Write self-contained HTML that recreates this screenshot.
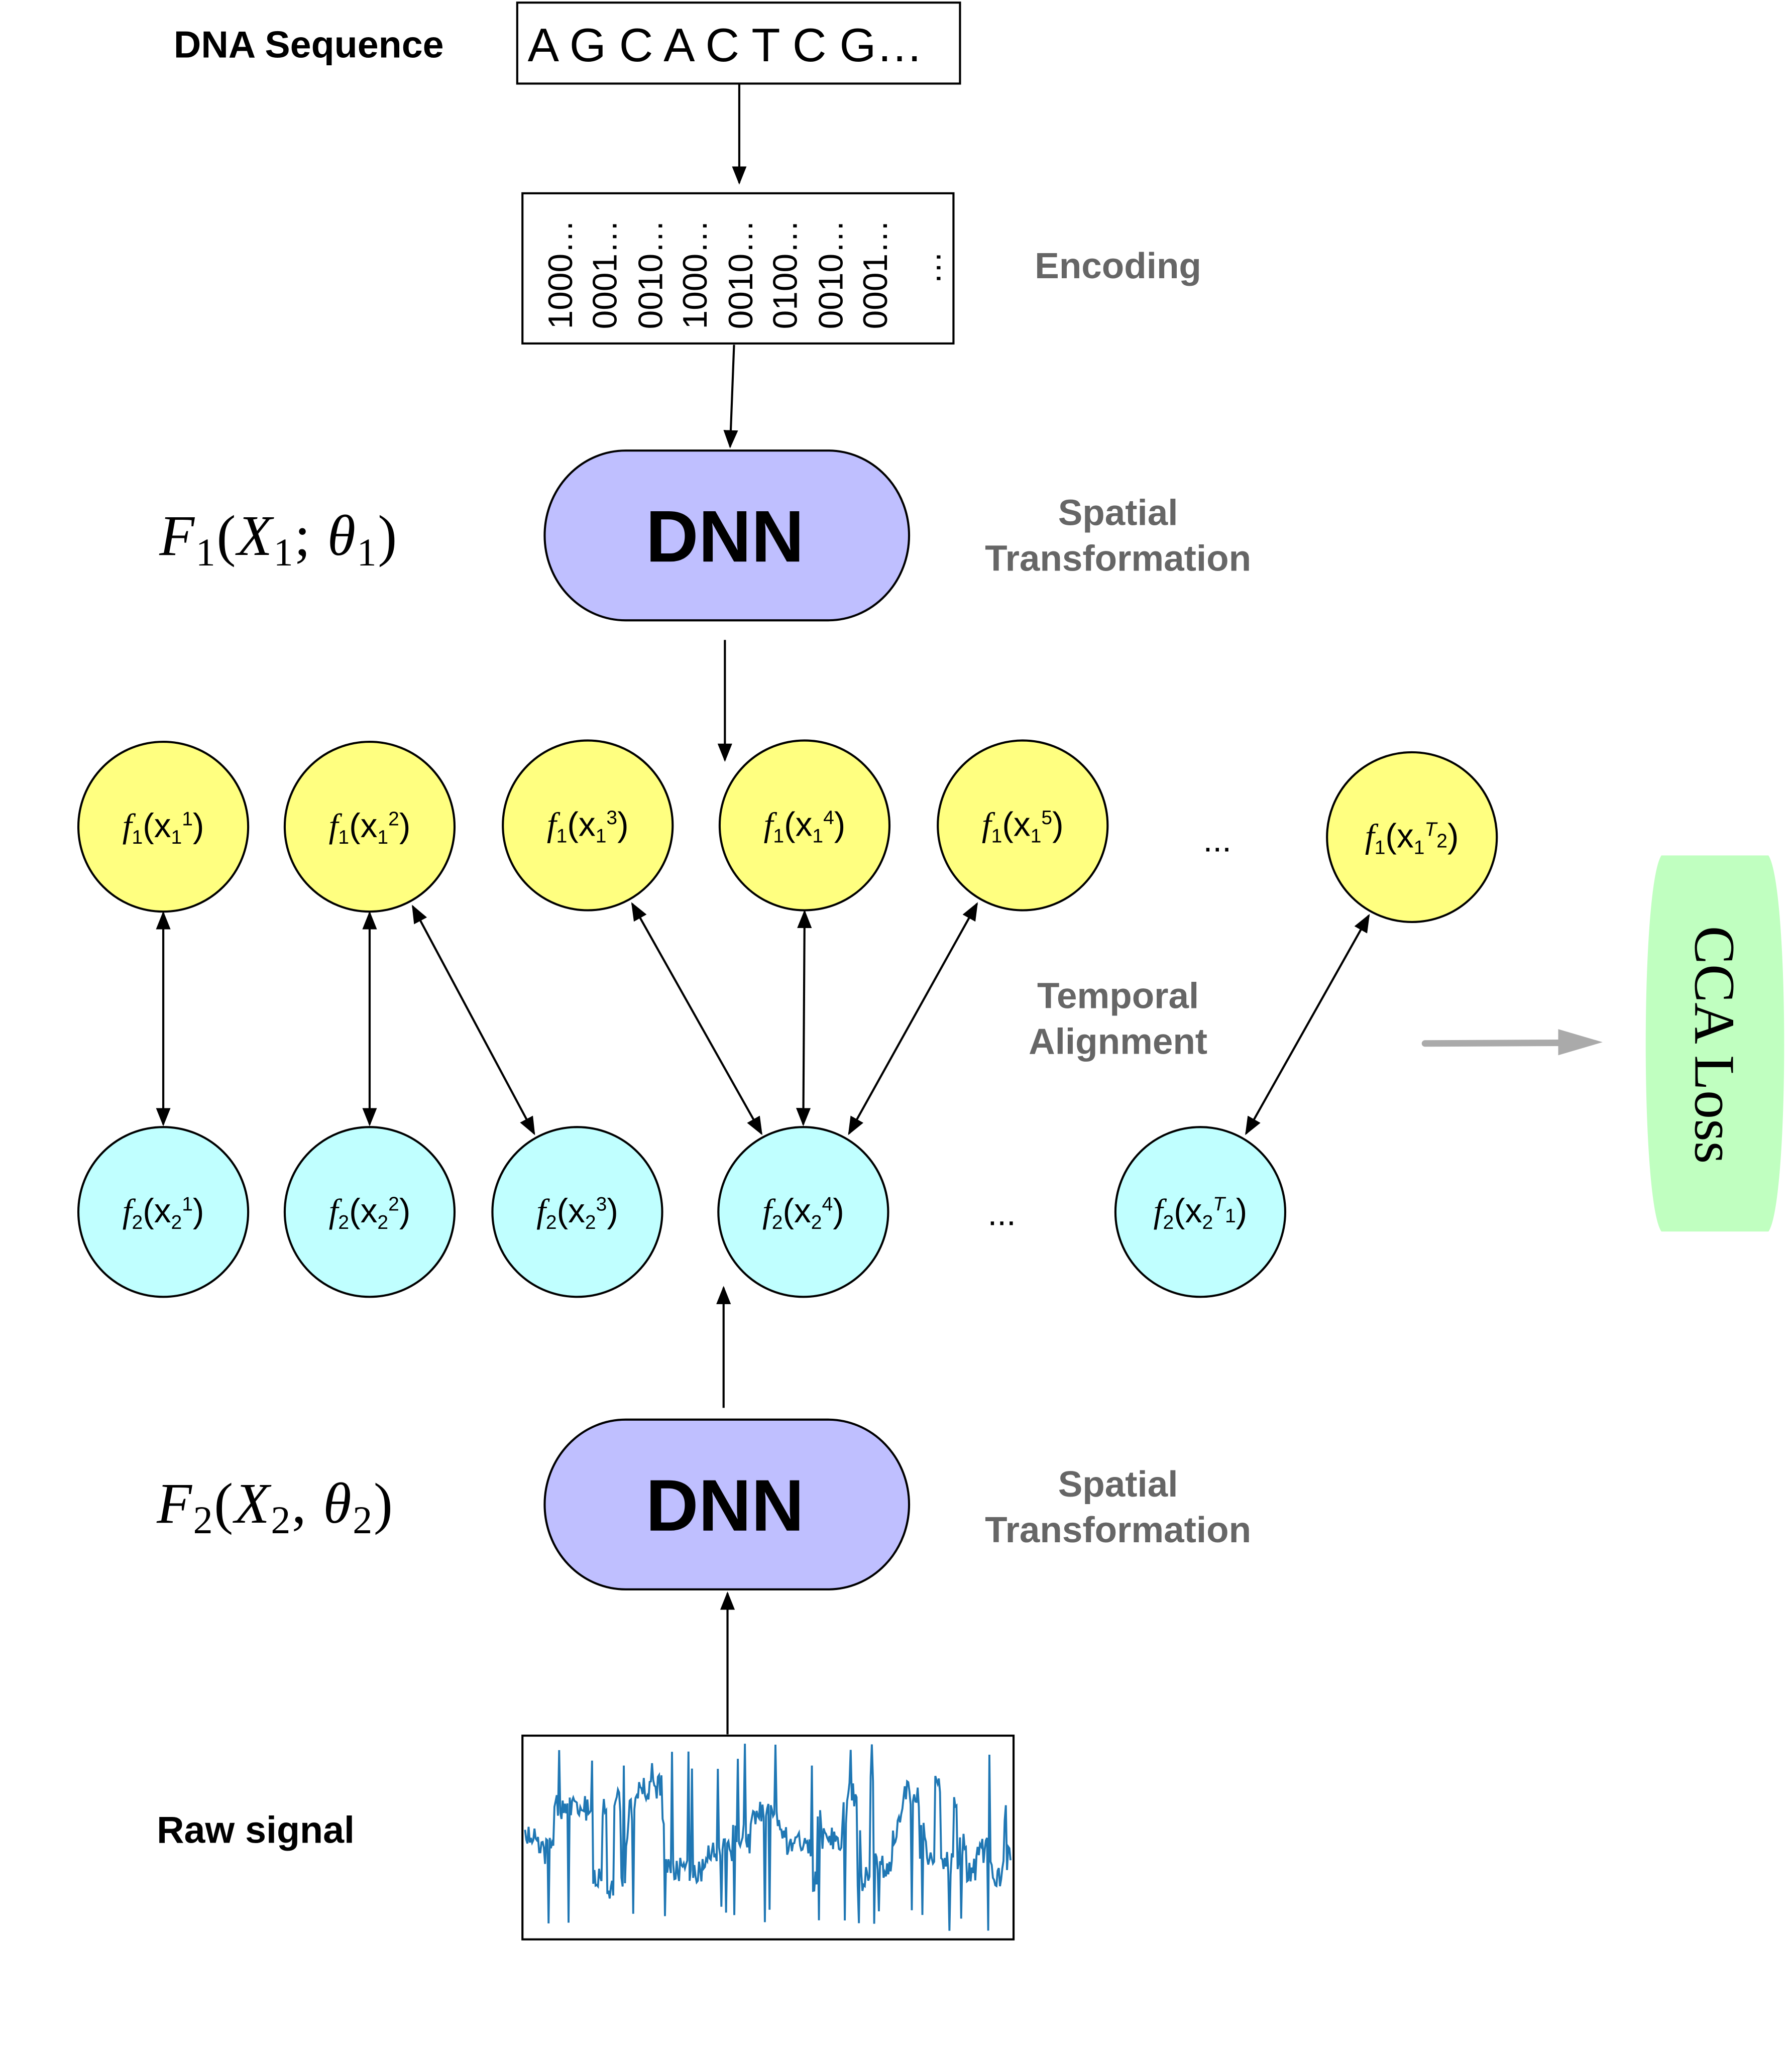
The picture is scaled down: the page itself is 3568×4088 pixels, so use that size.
<!DOCTYPE html>
<html><head><meta charset="utf-8"><style>
html,body{margin:0;padding:0;background:#fff}
svg{display:block}
.b{font-family:"Liberation Sans",sans-serif;font-weight:bold}
.g{fill:#666;font-size:28px;text-anchor:middle}
.n{font-family:"Liberation Sans",sans-serif;font-size:26px;text-anchor:middle}
.m{font-family:"Liberation Serif",serif;font-size:44px}
</style></head><body>
<svg width="3568" height="4088" viewBox="0 0 1372 1572" preserveAspectRatio="none" xmlns="http://www.w3.org/2000/svg">
<defs>
<marker id="a" viewBox="0 0 10 10" refX="9" refY="5" markerWidth="14" markerHeight="14" orient="auto-start-reverse" markerUnits="userSpaceOnUse"><path d="M0,1 L10,5 L0,9 z" fill="#000"/></marker>
</defs>
<g stroke="#000" stroke-width="1.6" fill="none">
<line x1="566" y1="64" x2="566" y2="140" marker-end="url(#a)"/>
<line x1="562" y1="264" x2="559" y2="342" marker-end="url(#a)"/>
<line x1="555" y1="490" x2="555" y2="582" marker-end="url(#a)"/>
<line x1="125" y1="699" x2="125" y2="861" marker-start="url(#a)" marker-end="url(#a)"/>
<line x1="283" y1="699" x2="283" y2="861" marker-start="url(#a)" marker-end="url(#a)"/>
<line x1="316" y1="694" x2="409" y2="868" marker-start="url(#a)" marker-end="url(#a)"/>
<line x1="484" y1="692" x2="583" y2="868" marker-start="url(#a)" marker-end="url(#a)"/>
<line x1="616" y1="698" x2="615" y2="861" marker-start="url(#a)" marker-end="url(#a)"/>
<line x1="748" y1="692" x2="650" y2="868" marker-start="url(#a)" marker-end="url(#a)"/>
<line x1="1048" y1="701" x2="954" y2="868" marker-start="url(#a)" marker-end="url(#a)"/>
<line x1="554" y1="1078" x2="554" y2="986" marker-end="url(#a)"/>
<line x1="557" y1="1328" x2="557" y2="1220" marker-end="url(#a)"/>
</g>
<line x1="1091" y1="799" x2="1196" y2="798.5" stroke="#aaa" stroke-width="5" stroke-linecap="round"/>
<path d="M1193,788 L1227,798 L1193,808 z" fill="#aaa"/>

<text x="133" y="44" class="b" font-size="29">DNA Sequence</text>
<rect x="396" y="2" width="339" height="62" fill="#fff" stroke="#000" stroke-width="1.6"/>
<text x="404" y="47" font-family="Liberation Sans,sans-serif" font-size="36">A G C A C T C G…</text>

<rect x="400" y="148" width="330" height="115" fill="#fff" stroke="#000" stroke-width="1.6"/>
<g font-family="Liberation Sans,sans-serif" font-size="26">
<text transform="translate(438,252) rotate(-90)">1000…</text>
<text transform="translate(472,252) rotate(-90)">0001…</text>
<text transform="translate(507,252) rotate(-90)">0010…</text>
<text transform="translate(541,252) rotate(-90)">1000…</text>
<text transform="translate(576,252) rotate(-90)">0010…</text>
<text transform="translate(610,252) rotate(-90)">0100…</text>
<text transform="translate(645,252) rotate(-90)">0010…</text>
<text transform="translate(679,252) rotate(-90)">0001…</text>
<text transform="translate(720,218) rotate(-90)">…</text>
</g>
<text x="856" y="213" class="b g">Encoding</text>

<rect x="417" y="345" width="279" height="130" rx="62" ry="65" fill="#bfbfff" stroke="#000" stroke-width="1.6"/>
<text x="555" y="430" class="b" font-size="56" text-anchor="middle">DNN</text>
<text x="122" y="425" class="m" letter-spacing="1"><tspan font-style="italic">F</tspan><tspan font-size="30" dy="8">1</tspan><tspan dy="-8">(</tspan><tspan font-style="italic">X</tspan><tspan font-size="30" dy="8">1</tspan><tspan dy="-8">;  </tspan><tspan font-style="italic">θ</tspan><tspan font-size="30" dy="8">1</tspan><tspan dy="-8">)</tspan></text>
<text x="856" y="402" class="b g">Spatial</text>
<text x="856" y="437" class="b g">Transformation</text>

<g stroke="#000" stroke-width="1.6" fill="#ffff80">
<circle cx="125" cy="633" r="65"/><circle cx="283" cy="633" r="65"/><circle cx="450" cy="632" r="65"/>
<circle cx="616" cy="632" r="65"/><circle cx="783" cy="632" r="65"/><circle cx="1081" cy="641" r="65"/>
</g>
<g stroke="#000" stroke-width="1.6" fill="#c0ffff">
<circle cx="125" cy="928" r="65"/><circle cx="283" cy="928" r="65"/><circle cx="442" cy="928" r="65"/>
<circle cx="615" cy="928" r="65"/><circle cx="919" cy="928" r="65"/>
</g>
<g class="n">
<text x="125" y="641"><tspan font-style="italic" font-family="Liberation Serif,serif">f</tspan><tspan font-size="15" dy="5">1</tspan><tspan dy="-5">(x</tspan><tspan font-size="15" dy="5">1</tspan><tspan font-size="15" dy="-14">1</tspan><tspan dy="9">)</tspan></text>
<text x="283" y="641"><tspan font-style="italic" font-family="Liberation Serif,serif">f</tspan><tspan font-size="15" dy="5">1</tspan><tspan dy="-5">(x</tspan><tspan font-size="15" dy="5">1</tspan><tspan font-size="15" dy="-14">2</tspan><tspan dy="9">)</tspan></text>
<text x="450" y="640"><tspan font-style="italic" font-family="Liberation Serif,serif">f</tspan><tspan font-size="15" dy="5">1</tspan><tspan dy="-5">(x</tspan><tspan font-size="15" dy="5">1</tspan><tspan font-size="15" dy="-14">3</tspan><tspan dy="9">)</tspan></text>
<text x="616" y="640"><tspan font-style="italic" font-family="Liberation Serif,serif">f</tspan><tspan font-size="15" dy="5">1</tspan><tspan dy="-5">(x</tspan><tspan font-size="15" dy="5">1</tspan><tspan font-size="15" dy="-14">4</tspan><tspan dy="9">)</tspan></text>
<text x="783" y="640"><tspan font-style="italic" font-family="Liberation Serif,serif">f</tspan><tspan font-size="15" dy="5">1</tspan><tspan dy="-5">(x</tspan><tspan font-size="15" dy="5">1</tspan><tspan font-size="15" dy="-14">5</tspan><tspan dy="9">)</tspan></text>
<text x="1081" y="649"><tspan font-style="italic" font-family="Liberation Serif,serif">f</tspan><tspan font-size="15" dy="5">1</tspan><tspan dy="-5">(x</tspan><tspan font-size="15" dy="5">1</tspan><tspan font-size="15" font-style="italic" dy="-14">T</tspan><tspan font-size="15" dy="9">2</tspan><tspan>)</tspan></text>
<text x="125" y="936"><tspan font-style="italic" font-family="Liberation Serif,serif">f</tspan><tspan font-size="15" dy="5">2</tspan><tspan dy="-5">(x</tspan><tspan font-size="15" dy="5">2</tspan><tspan font-size="15" dy="-14">1</tspan><tspan dy="9">)</tspan></text>
<text x="283" y="936"><tspan font-style="italic" font-family="Liberation Serif,serif">f</tspan><tspan font-size="15" dy="5">2</tspan><tspan dy="-5">(x</tspan><tspan font-size="15" dy="5">2</tspan><tspan font-size="15" dy="-14">2</tspan><tspan dy="9">)</tspan></text>
<text x="442" y="936"><tspan font-style="italic" font-family="Liberation Serif,serif">f</tspan><tspan font-size="15" dy="5">2</tspan><tspan dy="-5">(x</tspan><tspan font-size="15" dy="5">2</tspan><tspan font-size="15" dy="-14">3</tspan><tspan dy="9">)</tspan></text>
<text x="615" y="936"><tspan font-style="italic" font-family="Liberation Serif,serif">f</tspan><tspan font-size="15" dy="5">2</tspan><tspan dy="-5">(x</tspan><tspan font-size="15" dy="5">2</tspan><tspan font-size="15" dy="-14">4</tspan><tspan dy="9">)</tspan></text>
<text x="919" y="936"><tspan font-style="italic" font-family="Liberation Serif,serif">f</tspan><tspan font-size="15" dy="5">2</tspan><tspan dy="-5">(x</tspan><tspan font-size="15" dy="5">2</tspan><tspan font-size="15" font-style="italic" dy="-14">T</tspan><tspan font-size="15" dy="9">1</tspan><tspan>)</tspan></text>
<text x="932" y="652">...</text>
<text x="767" y="938">...</text>
</g>
<text x="856" y="772" class="b g">Temporal</text>
<text x="856" y="807" class="b g">Alignment</text>

<path d="M1272,655 L1354,655 C1370,680 1370,920 1354,943 L1272,943 C1256,920 1256,680 1272,655 z" fill="#c0ffc0"/>
<text transform="translate(1298,800) rotate(90)" font-family="Liberation Serif,serif" font-size="44" text-anchor="middle">CCA Loss</text>

<rect x="417" y="1087" width="279" height="130" rx="62" ry="65" fill="#bfbfff" stroke="#000" stroke-width="1.6"/>
<text x="555" y="1172" class="b" font-size="56" text-anchor="middle">DNN</text>
<text x="120" y="1166" class="m" letter-spacing="1"><tspan font-style="italic">F</tspan><tspan font-size="30" dy="8">2</tspan><tspan dy="-8">(</tspan><tspan font-style="italic">X</tspan><tspan font-size="30" dy="8">2</tspan><tspan dy="-8">,  </tspan><tspan font-style="italic">θ</tspan><tspan font-size="30" dy="8">2</tspan><tspan dy="-8">)</tspan></text>
<text x="856" y="1146" class="b g">Spatial</text>
<text x="856" y="1181" class="b g">Transformation</text>

<text x="120" y="1411" class="b" font-size="29">Raw signal</text>
<rect x="400" y="1329" width="376" height="156" fill="#fff" stroke="#000" stroke-width="1.6"/>
<polyline id="sig" fill="none" stroke="#1f77b4" stroke-width="1.5" points=""/>
</svg>
<script>
(function(){var s=12345;function r(){s=(s*1103515245+12345)%2147483648;return s/2147483648;}
var pts=[],lvl=1405,x=402;while(x<774){if(r()<0.12){lvl=1365+r()*80;}var y=lvl+(r()-0.5)*20;if(r()<0.03)y=1335+r()*20;if(r()<0.03)y=1460+r()*20;pts.push(x.toFixed(1)+","+y.toFixed(1));x+=0.9;}
document.getElementById('sig').setAttribute('points',pts.join(' '));})();
</script>
</body></html>
